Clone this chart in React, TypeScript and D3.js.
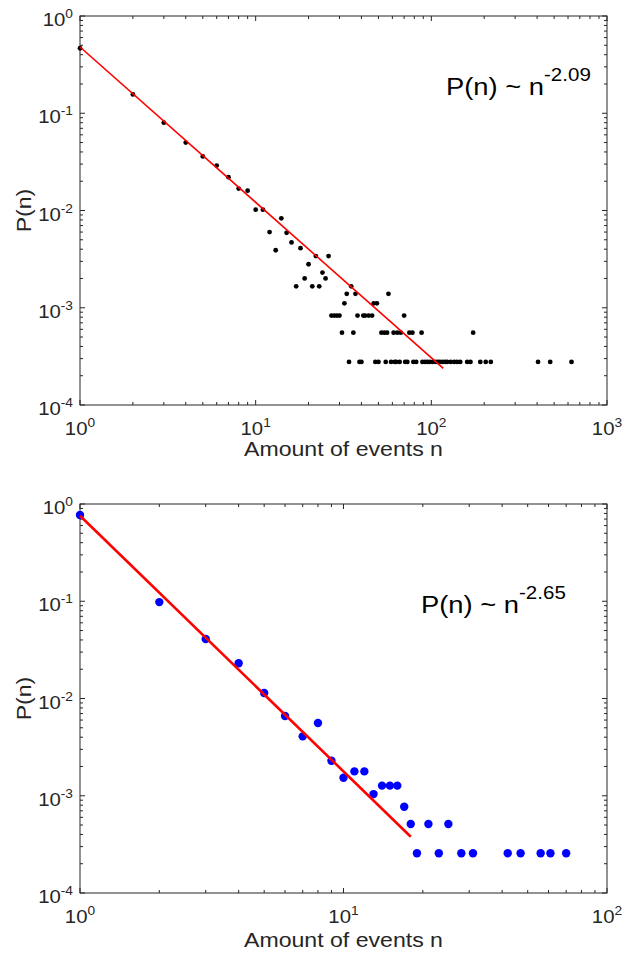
import * as d3 from "d3";

// top panel: event size distribution (black dots)
const topN = [
  1, 2, 3, 4, 5, 6, 7, 8, 9, 10, 11, 12, 13, 14, 15, 16, 17, 18, 19, 20,
  21, 22, 23, 24, 25, 26, 27, 28, 29, 30, 31, 32, 33, 34, 35, 36, 37, 38, 39, 40,
  41, 42, 44, 46, 47, 48, 49, 50, 52, 54, 55, 56, 57, 59, 61, 62, 63, 64, 66, 67,
  70, 71, 73, 75, 78, 79, 82, 88, 89, 92, 95, 98, 102, 106, 109, 112, 116, 120, 123, 129,
  135, 140, 146, 160, 167, 173, 190, 204, 218, 405, 475, 628,
];
const topP = [
  0.466, 0.156, 0.08, 0.05, 0.036, 0.029, 0.022, 0.0168, 0.016, 0.0102,
  0.0102, 0.006, 0.0039, 0.0083, 0.0059, 0.0047, 0.00166, 0.0041, 0.002, 0.0028,
  0.00166, 0.0034, 0.00166, 0.0023, 0.002, 0.0034, 0.00083, 0.00083, 0.00083, 0.00083,
  0.000554, 0.00111, 0.00139, 0.000277, 0.00166, 0.000554, 0.00139, 0.00083, 0.000277, 0.000277,
  0.00083, 0.00083, 0.00083, 0.00083, 0.00111, 0.000277, 0.00111, 0.000277, 0.000554, 0.000554,
  0.000277, 0.000554, 0.00139, 0.000277, 0.000554, 0.000277, 0.000277, 0.000554, 0.000277, 0.000554,
  0.00083, 0.000277, 0.000277, 0.000554, 0.000554, 0.000277, 0.000277, 0.000554, 0.000277, 0.000277,
  0.000277, 0.000277, 0.000277, 0.000277, 0.000277, 0.000277, 0.000277, 0.000277, 0.000277, 0.000277,
  0.000277, 0.000277, 0.000277, 0.000277, 0.000277, 0.000554, 0.000277, 0.000277, 0.000277, 0.000277,
  0.000277, 0.000277,
];
const topFitN = [1, 117];
const topFitP = [0.48, 0.000238];

// bottom panel (blue dots)
const botN = [1, 2, 3, 4, 5, 6, 7, 8, 9, 10, 11, 12, 13, 14, 15, 16, 17, 18, 19, 21, 23, 25, 28, 31, 42, 47, 56, 61, 70];
const botP = [
  0.771, 0.098, 0.0409, 0.023, 0.0114, 0.0066, 0.00408, 0.0056, 0.00229, 0.00153,
  0.00178, 0.00178, 0.00104, 0.00127, 0.00127, 0.00127, 0.00077, 0.000513, 0.000256, 0.000513,
  0.000256, 0.000513, 0.000256, 0.000256, 0.000256, 0.000256, 0.000256, 0.000256, 0.000256,
];
const botFitN = [1, 18];
const botFitP = [0.758, 0.000379];

const yExps = [0, -1, -2, -3, -4];
const topXExps = [0, 1, 2, 3];
const botXExps = [0, 1, 2];

const FONT = "'Liberation Sans', Arial, Helvetica, sans-serif";
const AX = "#262626";
const WIDE = 1.1; // the original's text is a bit wider than Arial

type PanelProps = {
  top: number;
  xExps: number[];
  n: number[];
  p: number[];
  fitN: number[];
  fitP: number[];
  color: string;
  r: number;
  fitWidth: number;
  slope: string;
  noteX: number;
  noteY: number;
  labelGap: number;
};

function Panel(props: PanelProps) {
  const { top, xExps, n, p, fitN, fitP, color, r, fitWidth, slope, noteX, noteY, labelGap } = props;
  const left = 80, right = 607, h = 389;
  const bottom = top + h;
  const x = d3.scaleLog().domain([1, Math.pow(10, xExps[xExps.length - 1])]).range([left, right]);
  const y = d3.scaleLog().domain([1e-4, 1]).range([bottom, top]);

  const minorX: number[] = [];
  for (let d = 0; d < xExps.length - 1; d++)
    for (let k = 2; k <= 9; k++) minorX.push(k * Math.pow(10, d));
  const minorY: number[] = [];
  for (let d = -4; d < 0; d++)
    for (let k = 2; k <= 9; k++) minorY.push(k * Math.pow(10, d));

  const line = d3.line<number>().x((d) => x(fitN[d])).y((d) => y(fitP[d]));

  return (
    <g fontFamily={FONT}>
      {/* ticks, inward on all four sides */}
      <g stroke={AX} strokeWidth={1}>
        {xExps.map((e) => {
          const xx = x(Math.pow(10, e));
          return (
            <g key={"mx" + e}>
              <line x1={xx} x2={xx} y1={bottom} y2={bottom - 5} />
              <line x1={xx} x2={xx} y1={top} y2={top + 5} />
            </g>
          );
        })}
        {minorX.map((v) => (
          <g key={"nx" + v}>
            <line x1={x(v)} x2={x(v)} y1={bottom} y2={bottom - 3} />
            <line x1={x(v)} x2={x(v)} y1={top} y2={top + 3} />
          </g>
        ))}
        {yExps.map((e) => {
          const yy = y(Math.pow(10, e));
          return (
            <g key={"my" + e}>
              <line x1={left} x2={left + 5} y1={yy} y2={yy} />
              <line x1={right} x2={right - 5} y1={yy} y2={yy} />
            </g>
          );
        })}
        {minorY.map((v) => (
          <g key={"ny" + v}>
            <line x1={left} x2={left + 3} y1={y(v)} y2={y(v)} />
            <line x1={right} x2={right - 3} y1={y(v)} y2={y(v)} />
          </g>
        ))}
      </g>
      <rect x={left} y={top} width={right - left} height={h} fill="none" stroke={AX} strokeWidth={1} />

      {/* tick labels */}
      {yExps.map((e) => (
        <text key={"ly" + e} transform={`translate(73,${y(Math.pow(10, e)) + 10}) scale(${WIDE},1)`}
          textAnchor="end" fontSize={18.5} fill={AX}>
          <tspan>10</tspan>
          <tspan dy={-8} fontSize={12.5}>{e}</tspan>
        </text>
      ))}
      {xExps.map((e) => (
        <text key={"lx" + e} transform={`translate(${x(Math.pow(10, e))},${bottom + 30}) scale(${WIDE},1)`}
          textAnchor="middle" fontSize={18.5} fill={AX}>
          <tspan>10</tspan>
          <tspan dy={-8} fontSize={12.5}>{e}</tspan>
        </text>
      ))}

      {/* axis labels */}
      <text transform={`translate(${(left + right) / 2},${bottom + labelGap}) scale(${WIDE},1)`}
        textAnchor="middle" fontSize={21} fill={AX}>
        Amount of events n
      </text>
      <text transform={`translate(31,${top + h / 2}) rotate(-90) scale(${WIDE},1)`} textAnchor="middle" fontSize={21} fill={AX}>
        P(n)
      </text>

      {/* data */}
      {n.map((v, i) => (
        <circle key={"d" + i} cx={x(v)} cy={y(p[i])} r={r} fill={color} />
      ))}
      <path d={line([0, 1]) || ""} fill="none" stroke="#ff0000" strokeWidth={fitWidth} />

      <text transform={`translate(${noteX},${top + noteY}) scale(1.14,1)`} fontSize={24} fill="#000">
        <tspan>P(n) ~ n</tspan>
        <tspan dy={-14} fontSize={18}>{slope}</tspan>
      </text>
    </g>
  );
}

export default function App() {
  return (
    <div style={{ position: "absolute", left: 0, top: 0 }}>
      <svg width={624} height={958} style={{ display: "block", background: "#fff" }}>
        <Panel top={16} xExps={topXExps} n={topN} p={topP} fitN={topFitN} fitP={topFitP}
          color="#000" r={2.4} fitWidth={1.6} slope="-2.09" noteX={446} noteY={79} labelGap={51} />
        <Panel top={504} xExps={botXExps} n={botN} p={botP} fitN={botFitN} fitP={botFitP}
          color="#0000ff" r={4.2} fitWidth={2.6} slope="-2.65" noteX={421} noteY={109} labelGap={54} />
      </svg>
    </div>
  );
}
